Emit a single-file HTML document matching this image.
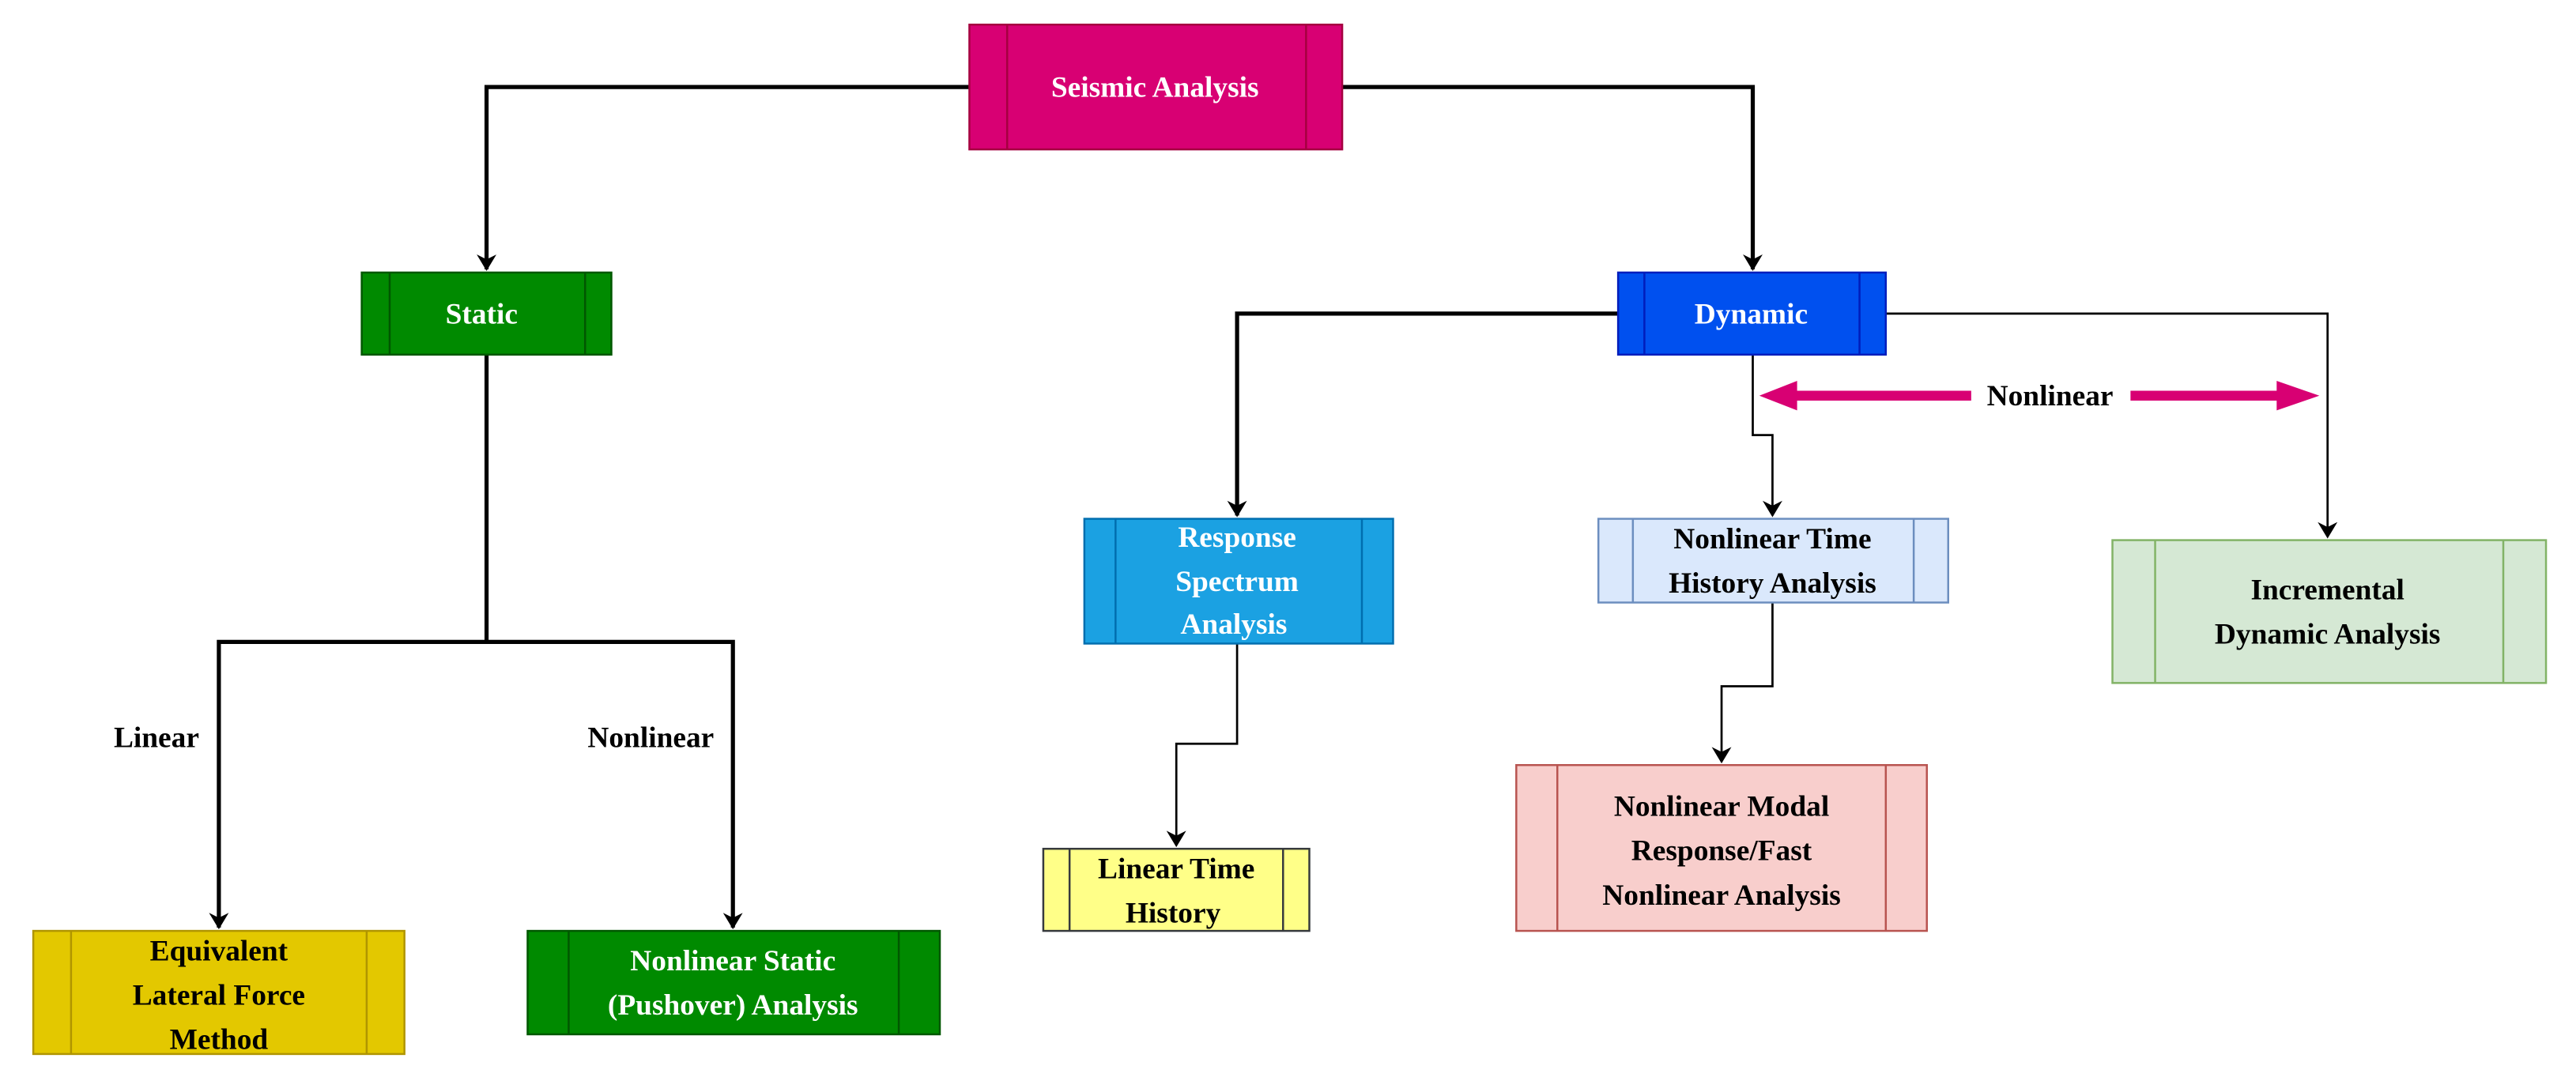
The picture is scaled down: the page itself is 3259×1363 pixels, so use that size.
<!DOCTYPE html>
<html><head><meta charset="utf-8">
<style>
html,body{margin:0;padding:0;background:#fff;}
svg{display:block;}
text{font-family:"Liberation Serif",serif;font-weight:bold;font-size:18px;text-anchor:middle;}
</style></head>
<body>
<svg width="3259" height="1363" viewBox="0 0 1568 656" xmlns="http://www.w3.org/2000/svg">
<defs>
<marker id="ar" markerWidth="10" markerHeight="12" refX="9" refY="6" orient="auto" markerUnits="userSpaceOnUse">
<path d="M0,0 L10,6 L0,12 L3,6 Z" fill="#000"/>
</marker>
</defs>
<rect width="1568" height="656" fill="#fff"/>
<!-- connectors -->
<g fill="none" stroke="#000">
<path d="M590,53 H296 V164" stroke-width="2.5" marker-end="url(#ar)"/>
<path d="M817,53 H1067 V164" stroke-width="2.5" marker-end="url(#ar)"/>
<path d="M296,216 V391 H133 V565" stroke-width="2.5" marker-end="url(#ar)"/>
<path d="M296,391 H446 V565" stroke-width="2.5" marker-end="url(#ar)"/>
<path d="M985,191 H753 V314" stroke-width="2.5" marker-end="url(#ar)"/>
<path d="M1148,191 H1417 V327" stroke-width="1.3" marker-end="url(#ar)"/>
<path d="M1067,216 V265 H1079 V314" stroke-width="1.3" marker-end="url(#ar)"/>
<path d="M753,392 V453 H716 V515" stroke-width="1.3" marker-end="url(#ar)"/>
<path d="M1079,367 V418 H1048 V464" stroke-width="1.3" marker-end="url(#ar)"/>
</g>
<!-- nonlinear double arrow -->
<g fill="#d80073">
<path d="M1071,241 L1094,232 L1094,238 L1200,238 L1200,244 L1094,244 L1094,250 Z"/>
<path d="M1297,238 L1386,238 L1386,232 L1412,241 L1386,250 L1386,244 L1297,244 Z"/>
</g>
<text x="1248" y="247" fill="#000">Nonlinear</text>
<text x="95" y="455" fill="#000">Linear</text>
<text x="396" y="455" fill="#000">Nonlinear</text>
<!-- boxes -->
<g stroke-width="1.2">
<rect x="590" y="15" width="227" height="76" fill="#d80073" stroke="#a50040"/>
<line x1="613" y1="15" x2="613" y2="91" stroke="#a50040"/><line x1="795" y1="15" x2="795" y2="91" stroke="#a50040"/>
<rect x="220" y="166" width="152" height="50" fill="#008a00" stroke="#005700"/>
<line x1="237" y1="166" x2="237" y2="216" stroke="#005700"/><line x1="356" y1="166" x2="356" y2="216" stroke="#005700"/>
<rect x="985" y="166" width="163" height="50" fill="#0050ef" stroke="#001dbc"/>
<line x1="1001" y1="166" x2="1001" y2="216" stroke="#001dbc"/><line x1="1132" y1="166" x2="1132" y2="216" stroke="#001dbc"/>
<rect x="660" y="316" width="188" height="76" fill="#1ba1e2" stroke="#006eaf"/>
<line x1="679" y1="316" x2="679" y2="392" stroke="#006eaf"/><line x1="829" y1="316" x2="829" y2="392" stroke="#006eaf"/>
<rect x="973" y="316" width="213" height="51" fill="#dae8fc" stroke="#6c8ebf"/>
<line x1="994" y1="316" x2="994" y2="367" stroke="#6c8ebf"/><line x1="1165" y1="316" x2="1165" y2="367" stroke="#6c8ebf"/>
<rect x="1286" y="329" width="264" height="87" fill="#d5e8d4" stroke="#82b366"/>
<line x1="1312" y1="329" x2="1312" y2="416" stroke="#82b366"/><line x1="1524" y1="329" x2="1524" y2="416" stroke="#82b366"/>
<rect x="635" y="517" width="162" height="50" fill="#ffff88" stroke="#36393d"/>
<line x1="651" y1="517" x2="651" y2="567" stroke="#36393d"/><line x1="781" y1="517" x2="781" y2="567" stroke="#36393d"/>
<rect x="923" y="466" width="250" height="101" fill="#f8cecc" stroke="#b85450"/>
<line x1="948" y1="466" x2="948" y2="567" stroke="#b85450"/><line x1="1148" y1="466" x2="1148" y2="567" stroke="#b85450"/>
<rect x="20" y="567" width="226" height="75" fill="#e3c800" stroke="#b09500"/>
<line x1="43" y1="567" x2="43" y2="642" stroke="#b09500"/><line x1="223" y1="567" x2="223" y2="642" stroke="#b09500"/>
<rect x="321" y="567" width="251" height="63" fill="#008a00" stroke="#005700"/>
<line x1="346" y1="567" x2="346" y2="630" stroke="#005700"/><line x1="547" y1="567" x2="547" y2="630" stroke="#005700"/>
</g>
<!-- box labels -->
<text x="703" y="59" fill="#fff">Seismic Analysis</text>
<text x="293" y="197" fill="#fff">Static</text>
<text x="1066" y="197" fill="#fff">Dynamic</text>
<text x="753" y="333" fill="#fff">Response</text>
<text x="753" y="360" fill="#fff">Spectrum</text>
<text x="751" y="386" fill="#fff">Analysis</text>
<text x="1079" y="334" fill="#000">Nonlinear Time</text>
<text x="1079" y="361" fill="#000">History Analysis</text>
<text x="1417" y="365" fill="#000">Incremental</text>
<text x="1417" y="392" fill="#000">Dynamic Analysis</text>
<text x="716" y="535" fill="#000">Linear Time</text>
<text x="714" y="562" fill="#000">History</text>
<text x="1048" y="497" fill="#000">Nonlinear Modal</text>
<text x="1048" y="524" fill="#000">Response/Fast</text>
<text x="1048" y="551" fill="#000">Nonlinear Analysis</text>
<text x="133" y="585" fill="#000">Equivalent</text>
<text x="133" y="612" fill="#000">Lateral Force</text>
<text x="133" y="639" fill="#000">Method</text>
<text x="446" y="591" fill="#fff">Nonlinear Static</text>
<text x="446" y="618" fill="#fff">(Pushover) Analysis</text>
</svg>
</body></html>
